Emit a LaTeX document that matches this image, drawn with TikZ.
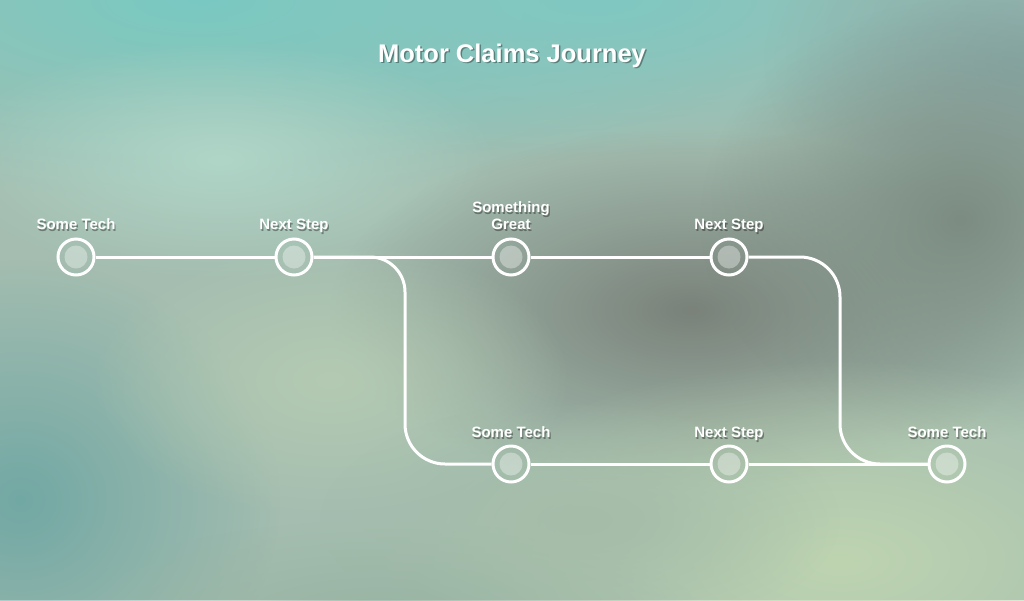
\documentclass[tikz,border=0pt]{standalone}
\usepackage{fontspec}
\setmainfont{Liberation Sans}
\usetikzlibrary{fadings}
\definecolor{bgbase}{HTML}{A4BDB0}
\definecolor{cA}{HTML}{78CAC2}
\definecolor{cB}{HTML}{80C8C2}
\definecolor{cC}{HTML}{B0D6C8}
\definecolor{cD}{HTML}{88AAA8}
\definecolor{cE}{HTML}{7A827A}
\definecolor{cF}{HTML}{7C8C82}
\definecolor{cG}{HTML}{BED4B0}
\definecolor{cH}{HTML}{72A8A4}
\definecolor{cI}{HTML}{B4CAB2}
\definecolor{cJ}{HTML}{98B4A2}
\definecolor{cK}{HTML}{A4BCA8}
\tikzfading[name=softc, inner color=transparent!0, outer color=transparent!100]
\tikzset{
  blob/.style={path fading=softc, fill=#1},
  stopnode/.style={circle, draw=white, line width=3pt, minimum size=36pt, inner sep=0pt,
    path picture={\fill[white, fill opacity=0.35] (path picture bounding box.center) circle (11.5pt);}},
  track/.style={draw=white, line width=3pt},
  lblbase/.style={font=\bfseries\fontsize{15}{17}\selectfont, align=center, anchor=south, inner sep=0pt, text depth=0pt},
  lbl/.style={lblbase, text=white},
  lblsh/.style={lblbase, text=black, text opacity=0.35},
  titlefont/.style={font=\bfseries\fontsize{25.5}{30}\selectfont},
}
\newcommand{\shtext}[3]{%
  \node[lblsh] at ([xshift=1.2pt,yshift=-1.2pt]#1) {#3};
  \node[lbl] (#2) at (#1) {#3};}
\begin{document}
\begin{tikzpicture}[x=1pt,y=-1pt]
\useasboundingbox (0,0) rectangle (1024,600);
\fill[bgbase] (0,0) rectangle (1024,600);
\begin{scope}
\clip (0,0) rectangle (1024,600);
\fill[blob=cA] (200,0) ellipse (600 and 200);
\fill[blob=cB] (600,0) ellipse (500 and 160);
\fill[blob=cC] (220,160) ellipse (280 and 120);
\fill[blob=cD] (1024,60) ellipse (260 and 180);
\fill[blob=cE] (690,310) ellipse (360 and 180);
\fill[blob=cF] (960,220) ellipse (260 and 220);
\fill[blob=cG] (840,560) ellipse (420 and 200);
\fill[blob=cH] (20,500) ellipse (260 and 240);
\fill[blob=cI] (330,380) ellipse (240 and 140);
\fill[blob=cJ] (380,620) ellipse (320 and 100);
\fill[blob=cK] (580,520) ellipse (260 and 120);
\end{scope}
% nodes
\node[stopnode] (n1) at (76,257) {};
\node[stopnode] (n2) at (294,257) {};
\node[stopnode] (n3) at (511,257) {};
\node[stopnode] (n4) at (729,257) {};
\node[stopnode] (n5) at (511,464) {};
\node[stopnode] (n6) at (729,464) {};
\node[stopnode] (n7) at (947,464) {};
% tracks
\draw[track] (n1) -- (n2);
\draw[track] (n2) -- (n3);
\draw[track] (n3) -- (n4);
\draw[track] (n4.east) -- (800,257) arc[start angle=-90, end angle=0, radius=40] -- (840,424) arc[start angle=180, end angle=90, radius=40] -- (n7.west);
\draw[track] (n2.east) -- (370,257) arc[start angle=-90, end angle=0, radius=35] -- (405,424) arc[start angle=180, end angle=90, radius=40] -- (n5.west);
\draw[track] (n5) -- (n6);
\draw[track] (n6) -- (n7);
% labels
\shtext{76,230}{t1}{Some Tech}
\shtext{294,230}{t2}{Next Step}
\shtext{511,230}{t3}{Something\\Great}
\shtext{729,230}{t4}{Next Step}
\shtext{511,438}{t5}{Some Tech}
\shtext{729,438}{t6}{Next Step}
\shtext{947,438}{t7}{Some Tech}
\node[titlefont, text=black, text opacity=0.35] at (513.5,57) {Motor Claims Journey};
\node[titlefont, text=white] (title) at (512,55.5) {Motor Claims Journey};
\end{tikzpicture}
\end{document}
